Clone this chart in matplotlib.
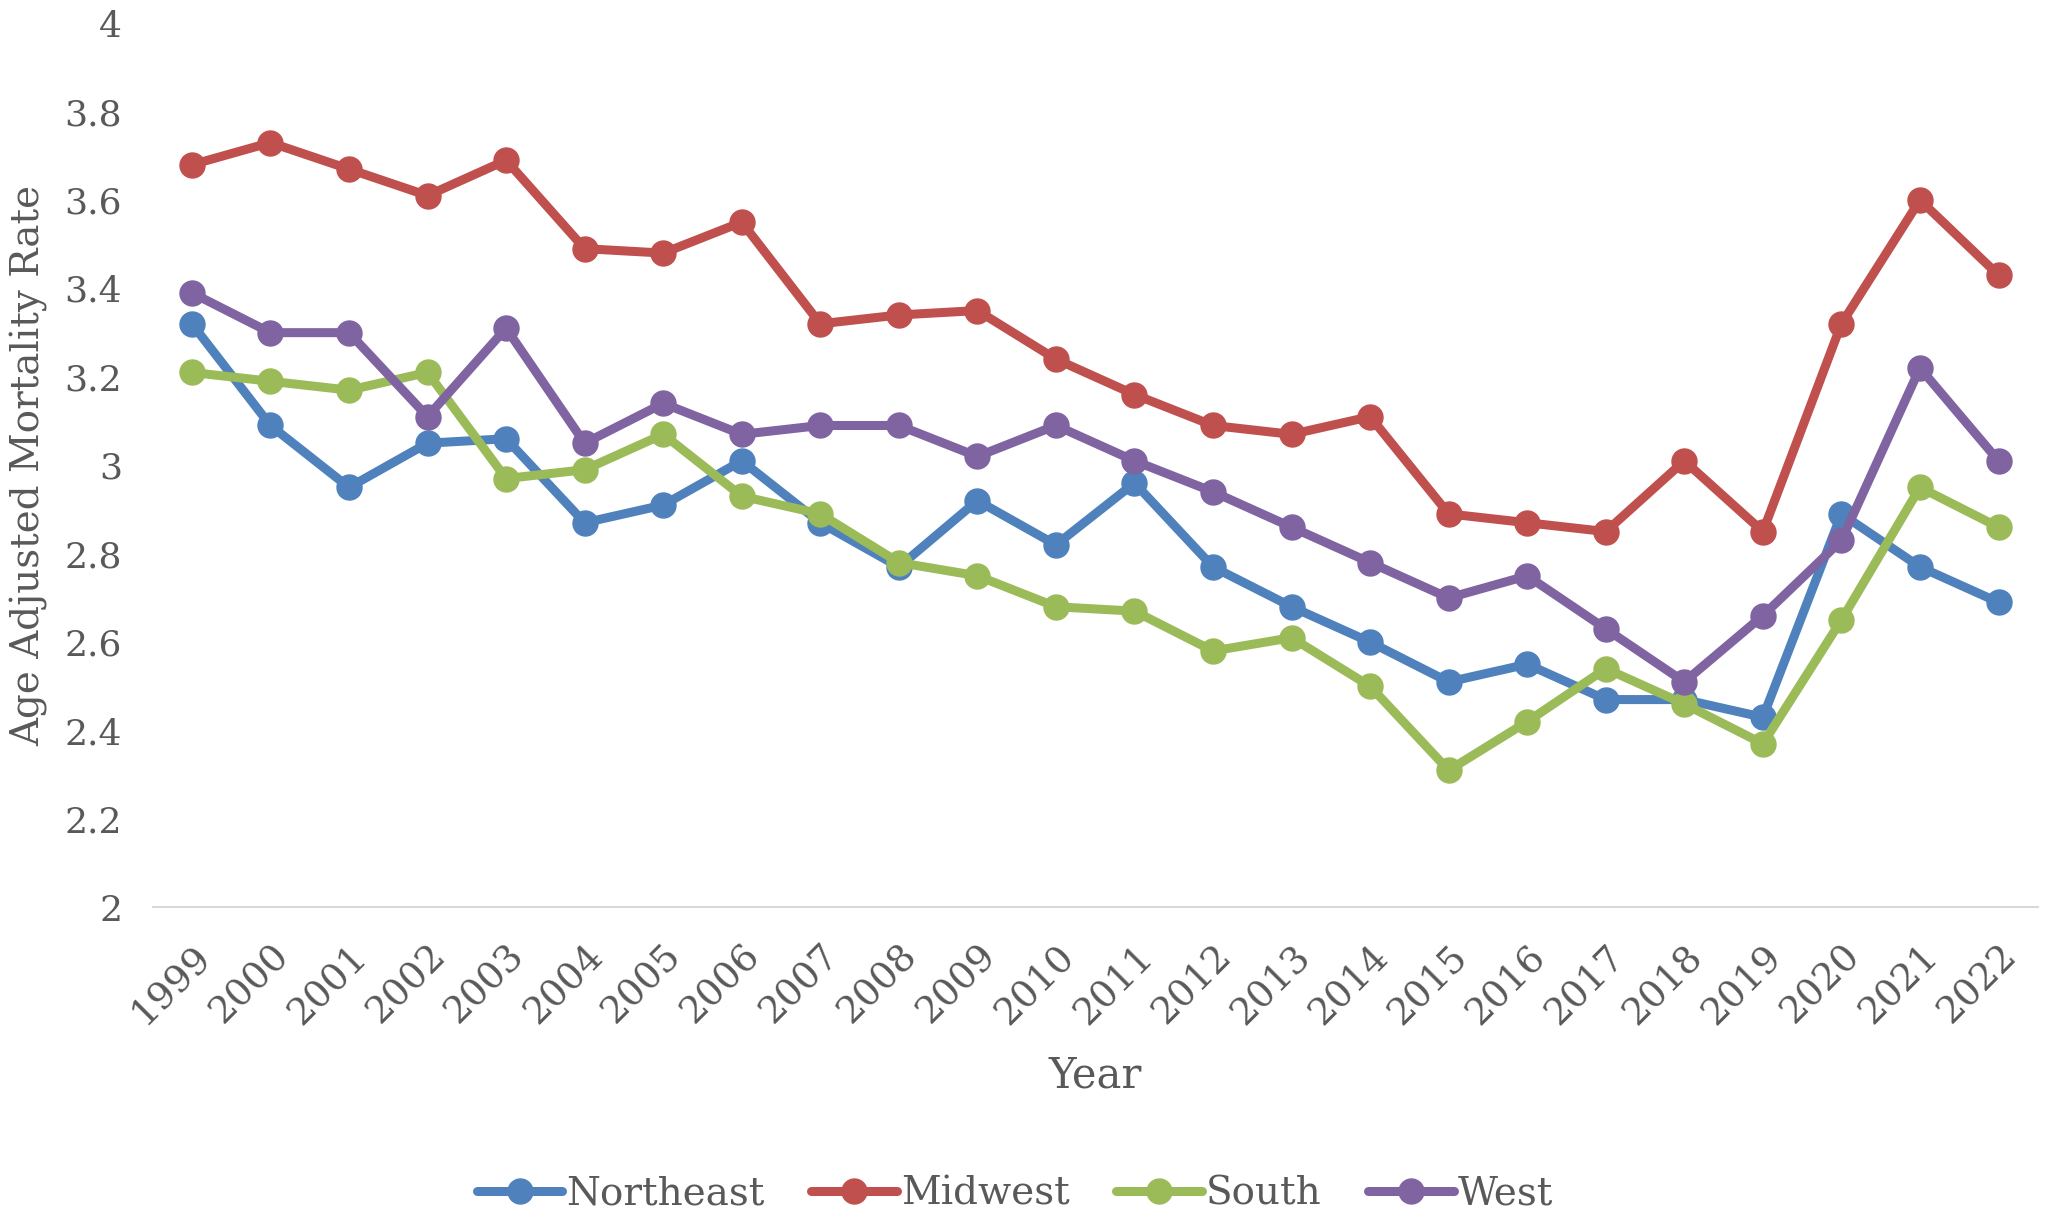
import matplotlib
matplotlib.use("Agg")
import matplotlib.pyplot as plt
from matplotlib.ticker import FixedLocator, FuncFormatter

years = list(range(1999, 2023))
northeast = [3.32, 3.09, 2.95, 3.05, 3.06, 2.87, 2.91, 3.01, 2.87, 2.77, 2.92, 2.82,
             2.96, 2.77, 2.68, 2.60, 2.51, 2.55, 2.47, 2.47, 2.43, 2.89, 2.77, 2.69]
midwest = [3.68, 3.73, 3.67, 3.61, 3.69, 3.49, 3.48, 3.55, 3.32, 3.34, 3.35, 3.24,
           3.16, 3.09, 3.07, 3.11, 2.89, 2.87, 2.85, 3.01, 2.85, 3.32, 3.60, 3.43]
south = [3.21, 3.19, 3.17, 3.21, 2.97, 2.99, 3.07, 2.93, 2.89, 2.78, 2.75, 2.68,
         2.67, 2.58, 2.61, 2.50, 2.31, 2.42, 2.54, 2.46, 2.37, 2.65, 2.95, 2.86]
west = [3.39, 3.30, 3.30, 3.11, 3.31, 3.05, 3.14, 3.07, 3.09, 3.09, 3.02, 3.09,
        3.01, 2.94, 2.86, 2.78, 2.70, 2.75, 2.63, 2.51, 2.66, 2.83, 3.22, 3.01]
series_names = ["Northeast", "Midwest", "South", "West"]
colors = ["#4F81BD", "#C0504D", "#9BBB59", "#8064A2"]
yticks = [2, 2.2, 2.4, 2.6, 2.8, 3, 3.2, 3.4, 3.6, 3.8, 4]

plt.rcParams['font.family'] = ['DejaVu Serif']
txt = "#595959"

fig = plt.figure(figsize=(20.46, 12.22), dpi=100)
ax = fig.add_axes([0.0746, 0.2575, 0.9214, 0.7235])

x = list(range(len(years)))
for name, vals, c in zip(series_names, [northeast, midwest, south, west], colors):
    ax.plot(x, vals, color=c, lw=6.5, marker='o', ms=18, label=name,
            solid_joinstyle='round', solid_capstyle='round')

ax.set_xlim(-0.5, len(years) - 0.5)
ax.set_ylim(2, 4)
ax.yaxis.set_major_locator(FixedLocator(yticks))
ax.yaxis.set_major_formatter(FuncFormatter(lambda v, p: f"{v:g}"))
ax.set_xticks(x)
ax.set_xticklabels([str(y) for y in years], rotation=45, ha='right',
                   rotation_mode='anchor', fontsize=27, color=txt)
for lab in ax.get_yticklabels():
    lab.set_fontsize(26)
    lab.set_color(txt)
ax.tick_params(axis='both', length=0)
ax.tick_params(axis='y', pad=22)
ax.tick_params(axis='x', pad=22)

for s in ['top', 'right', 'left']:
    ax.spines[s].set_visible(False)
ax.spines['bottom'].set_color('#D9D9D9')
ax.spines['bottom'].set_linewidth(1.5)

ax.set_ylabel("Age Adjusted Mortality Rate", fontsize=28, color=txt, labelpad=12)
ax.set_xlabel("Year", fontsize=30, color=txt, labelpad=17)

leg = fig.legend(loc='lower center', bbox_to_anchor=(0.496, -0.021), ncol=4,
                 frameon=False, fontsize=28, handlelength=2.2, handletextpad=0.1,
                 columnspacing=1.2, labelcolor=txt)

fig.savefig("out.png", dpi=100)
